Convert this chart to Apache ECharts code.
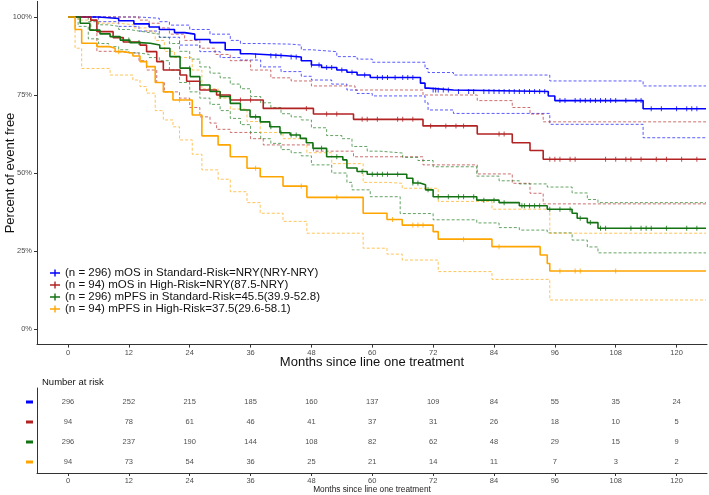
<!DOCTYPE html>
<html>
<head>
<meta charset="utf-8">
<title>KM curves</title>
<script src="https://cdn.jsdelivr.net/npm/echarts@6/dist/echarts.min.js"></script>
<style>html,body{margin:0;padding:0;background:#fff;}</style>
</head>
<body>
<div id="main" style="width:709px;height:495px;"></div>
<script>
// step points [month, percent]
var osStd = [[0,100],[6,99.5],[10,98.8],[13,97.8],[16,96.8],[18,96],[21,95],[23,94.5],[25,92.8],[28,91.8],[31,89.5],[34,88.2],[36,87.6],[43,87.2],[46,86],[48,84.6],[50,83.8],[53,83],[55,82.3],[57,81.4],[59.6,80.6],[69.5,78.8],[70.4,77.2],[71,76.6],[76,76.1],[94.7,74.7],[96,73.2],[113.4,70.6],[125.8,70.6]];
var osStdHi = [[0,100],[10,100],[14,99.6],[18,98.5],[20,97.4],[24,96],[28,94.5],[32,92.5],[34,91.5],[38,91.3],[44,91],[46,89.5],[48,88.9],[53,87.3],[57,86.5],[60,85.5],[70.4,83.5],[71,82.2],[76,81.4],[95,79.5],[113.4,77.9],[125.8,77.9]];
var osStdLo = [[0,100],[4,100],[6,98.5],[10,97],[14,95.5],[18,93.5],[22,91],[26,88.9],[30,87],[34,86.2],[38,84],[42,82.5],[46,81],[48,79.8],[52,78.5],[55,76.6],[57,75.5],[60,74.7],[70.4,72.5],[71,70.2],[76,69.1],[95,65.6],[113.4,61.3],[125.8,61.3]];

var osHigh = [[0,100],[4.5,99],[5.7,95.3],[8.9,93.4],[10.9,92],[14.2,91],[15.5,88.9],[17.5,85.7],[18.8,83],[22.1,81.4],[23.4,79.4],[26,76.6],[29.3,75],[32,73.4],[38.5,70.7],[48.4,68.9],[56.3,67.2],[70,65.1],[80.7,62.5],[87.6,59.7],[91.1,57.2],[93.7,54.4],[125.8,54.4]];
var osHighHi = [[0,100],[9,100],[14,99],[16,98],[18,96.5],[20,94.5],[23,92.5],[26,90],[29,88],[32,86],[36,83],[40,80.5],[44,79.5],[48,77.9],[56.6,76.6],[70,75],[80.7,73.2],[87.6,71],[91.1,68.9],[93.7,66.4],[125.8,66.4]];
var osHighLo = [[0,100],[4.5,96],[5.7,89],[9,88.4],[14,86],[15.5,83],[17.5,79],[19,76],[22,74],[24,71],[26,68],[28,66],[29.3,64],[32,63],[36,61],[38.5,59],[48.4,57],[56.3,55.2],[70,52.6],[80.7,49.7],[87.6,46.7],[91.1,43.5],[93.7,40.1],[125.8,40.1]];

var pfsStd = [[0,100],[2.4,98],[4.3,95.8],[6.3,94.6],[8.3,93.7],[10.3,92.6],[12.2,91.8],[14.2,91.6],[16.2,91],[18.1,90],[20.1,87.3],[22.1,83.6],[24.1,80.9],[26,78.2],[28,76.1],[30,74.5],[32,72.3],[34,70.2],[35.9,68],[37.9,66.4],[39.8,64.8],[41.8,62.9],[43.8,62.2],[45.8,61.1],[47,59.7],[48.3,57.9],[51,55.2],[54.2,54.2],[55,51.6],[57,50.5],[59,49.6],[66.8,48.3],[68,46.8],[69.4,46.2],[70.5,44.6],[72,42.4],[80.6,41.3],[85,40.5],[89,39.5],[94.5,38.4],[99.4,37.1],[100.4,35.5],[102.4,34.1],[104.5,32.3],[125.8,32.3]];
var pfsStdHi = [[0,100],[2,100],[4,98.5],[6,97.5],[8,97],[10,96],[12,95.5],[14,95],[16,94.5],[18,93.5],[20,91.5],[22,89],[24,86.5],[26,84],[28,82],[30,80.5],[32,78.5],[34,77],[36,74.5],[38,72.5],[40,71],[42,69],[44,68],[46,67],[48,64.5],[51,62],[54,61],[56,58.5],[59,57],[61.5,56.4],[66,55],[69,54],[72,52],[80.6,49],[85,47.5],[89,46.5],[94.5,45.5],[99.4,43.6],[102.4,41.5],[104.5,40.5],[125.8,40.5]];
var pfsStdLo = [[0,100],[2,97],[4,93],[6,91.5],[8,90.5],[10,89.5],[12,88.5],[14,88],[16,87],[18,86],[20,83],[22,79],[24,76],[26,74],[28,72],[30,70],[32,67.5],[34,65.5],[36,63],[38,61],[40,59.5],[42,57.5],[44,56.5],[46,55.5],[48,52.6],[52,50],[55,47],[56,44.6],[59.6,42.4],[65.5,37],[72,35],[80.6,34],[85,32.5],[89,31.7],[94.5,30.8],[99.4,28.5],[102.4,26.3],[104.5,24.4],[125.8,24.4]];

var pfsHigh = [[0,100],[1.4,96],[2.7,91.6],[5.7,90.5],[8.3,90],[9.3,88.9],[10.9,88.4],[12.8,87.5],[14.2,85.7],[15.5,84.1],[17.2,79],[18.8,76],[20.7,73.4],[24.5,68.6],[26.4,61.9],[29.6,59],[32,55.2],[35.3,51.5],[37.9,48.8],[42.4,45.8],[47.1,42.2],[58.2,37.1],[62.9,35.1],[65.9,33.3],[72,31.2],[73,28.8],[83.6,26.4],[93.1,23.7],[94.5,21],[95,18.6],[125.8,18.6]];
var pfsHighHi = [[0,100],[2,99],[6,98],[10,97.5],[13,96.5],[15.5,95.5],[17.2,92.5],[19,89],[21,87],[24.5,83],[26.4,77],[29.6,74],[32,70.5],[35.3,66.5],[37.9,63],[42.4,61],[47.1,56.5],[52,53],[58.2,47],[62.9,46.7],[65.9,45.1],[73,40.9],[83.6,38.4],[95,30.7],[125.8,30.7]];
var pfsHighLo = [[0,100],[1.4,90],[2.7,83.5],[8.3,81.4],[12.8,79.8],[14.2,77.7],[15.5,75.6],[17.2,70],[18.8,67],[20.7,64.8],[22,60.6],[24.5,56],[26.4,51],[29.6,48],[32,44],[35.3,40.5],[37.9,37.1],[42.4,34.5],[47.1,30.7],[58.2,25.9],[62.9,24],[65.9,22.1],[73,18.4],[83.6,15.9],[95,9.3],[125.8,9.3]];

// censor times (months)
var censorOsStd = [37,40,41,42,44,45,48,49.5,51,52,54,56,58.5,61,62,63,64.5,66,67,68,72,72.5,73,74,75,77,79,80,82,83,84,85,86,87,88,89,90,91,92,93,94,97,98,100,101,102,103,104,105,106,107,108,110,112,113,115,117,120,122,123,124];
var censorOsHigh = [30,34,36,47,51,53,58,59,61,65,66,68,71.5,74.5,76.5,78,85,86,95,96,97,99,100,106,108,110,111,113,116,118,121,124];
var censorPfsStd = [12,14,24,30,37,40,42,44,45,50,53,58,60,61,62,63,65,68,69,71,73,75,77,78,80,82,84,86,89.5,90,91,92,93,95,97,99,101,103,105,106,111,113,114,115,118,122,124];
var censorPfsHigh = [10,22,37,46,53,64,68,69,70,78,85,97,100,101,108];

var names = [
  '(n = 296) mOS in Standard-Risk=NRY(NRY-NRY)',
  '(n = 94) mOS in High-Risk=NRY(87.5-NRY)',
  '(n = 296) mPFS in Standard-Risk=45.5(39.9-52.8)',
  '(n = 94) mPFS in High-Risk=37.5(29.6-58.1)'
];
var colors = ['#0000FF', '#B22222', '#137313', '#FFA500'];

// number at risk table
var riskMonths = [0,12,24,36,48,60,72,84,96,108,120];
var riskOsStd = [296,252,215,185,160,137,109,84,55,35,24];
var riskOsHigh = [94,78,61,46,41,37,31,26,18,10,5];
var riskPfsStd = [296,237,190,144,108,82,62,48,29,15,9];
var riskPfsHigh = [94,73,54,36,25,21,14,11,7,3,2];
var monthTicks = [0,12,24,36,48,60,72,84,96,108,120];

var curves = [osStd, osHigh, pfsStd, pfsHigh];
var lows = [osStdLo, osHighLo, pfsStdLo, pfsHighLo];
var highs = [osStdHi, osHighHi, pfsStdHi, pfsHighHi];
var censors = [censorOsStd, censorOsHigh, censorPfsStd, censorPfsHigh];
var risks = [riskOsStd, riskOsHigh, riskPfsStd, riskPfsHigh];

function stepAt(curve, t) {
  var v = curve[0][1];
  for (var i = 0; i < curve.length; i++) {
    if (curve[i][0] <= t) v = curve[i][1]; else break;
  }
  return v;
}

var series = [];
// dashed confidence bands first so they sit under the curves
for (var g = 0; g < 4; g++) {
  [lows[g], highs[g]].forEach(function (band) {
    series.push({
      type: 'line', step: 'end', data: band, showSymbol: false, silent: true,
      xAxisIndex: 0, yAxisIndex: 0, z: 1,
      lineStyle: { color: colors[g], width: 1, type: [3, 2], opacity: 0.65 }
    });
  });
}
for (var g = 0; g < 4; g++) {
  series.push({
    name: names[g], type: 'line', step: 'end', data: curves[g], showSymbol: false,
    xAxisIndex: 0, yAxisIndex: 0, z: 3,
    lineStyle: { color: colors[g], width: 1.6 }, itemStyle: { color: colors[g] }
  });
  series.push({
    type: 'scatter', silent: true, xAxisIndex: 0, yAxisIndex: 0, z: 4,
    symbol: 'rect', symbolSize: [1, 5],
    itemStyle: { color: colors[g] },
    data: censors[g].map(function (t) { return [t, stepAt(curves[g], t)]; })
  });
  // risk table row: top row is group 0
  series.push({
    type: 'scatter', silent: true, xAxisIndex: 1, yAxisIndex: 1, symbolSize: 0,
    label: { show: true, position: 'inside', color: '#222', fontSize: 7.5,
      fontFamily: 'Liberation Sans', formatter: function (p) { return p.value[2]; } },
    data: riskMonths.map(function (m, i) { return [m, 4 - g, risks[g][i]]; })
  });
}

var tickLabel = { color: '#4D4D4D', fontSize: 7.5, fontFamily: 'Liberation Sans' };

var chart = echarts.init(document.getElementById('main'));
chart.setOption({
  animation: false,
  title: {
    text: 'Number at risk', left: 37, top: 372,
    textStyle: { fontSize: 9.5, fontWeight: 'normal', color: '#111', fontFamily: 'Liberation Sans' }
  },
  legend: {
    data: names, orient: 'vertical', left: 45, top: 262, itemGap: 0,
    itemWidth: 10, itemHeight: 8,
    icon: 'path://M0,4.3h10v1.4h-10z M4.3,1.5h1.4v7h-1.4z',
    textStyle: { fontSize: 11.5, lineHeight: 10.3, color: '#111', fontFamily: 'Liberation Sans' }
  },
  grid: [
    { left: 37, right: 2, top: 1.4, height: 343.2, containLabel: false, outerBoundsMode: 'none' },
    { left: 37, right: 2, top: 388, height: 85, containLabel: false, outerBoundsMode: 'none' }
  ],
  xAxis: [
    {
      type: 'value', gridIndex: 0, min: -6.11, max: 126,
      name: 'Months since line one treatment', nameLocation: 'middle', nameGap: 11, nameMoveOverlap: false,
      nameTextStyle: { fontSize: 13, color: '#111', fontFamily: 'Liberation Sans' },
      axisLine: { onZero: false, lineStyle: { color: '#333', width: 1 } },
      axisTick: { length: 3, lineStyle: { color: '#333' }, customValues: monthTicks },
      axisLabel: Object.assign({ margin: 4, customValues: monthTicks }, tickLabel),
      splitLine: { show: false }
    },
    {
      type: 'value', gridIndex: 1, min: -6.11, max: 126,
      name: 'Months since line one treatment', nameLocation: 'middle', nameGap: 13, nameMoveOverlap: false,
      nameTextStyle: { fontSize: 8.3, color: '#222', fontFamily: 'Liberation Sans' },
      axisLine: { onZero: false, lineStyle: { color: '#333', width: 1 } },
      axisTick: { length: 3, lineStyle: { color: '#333' }, customValues: monthTicks },
      axisLabel: Object.assign({ margin: 4, customValues: monthTicks }, tickLabel),
      splitLine: { show: false }
    }
  ],
  yAxis: [
    {
      type: 'value', gridIndex: 0, min: -5, max: 105,
      name: 'Percent of event free', nameLocation: 'middle', nameGap: 20, nameMoveOverlap: false,
      nameTextStyle: { fontSize: 13, color: '#111', fontFamily: 'Liberation Sans' },
      axisLine: { show: true, onZero: false, lineStyle: { color: '#333', width: 1 } },
      axisTick: { show: true, length: 3, lineStyle: { color: '#333' }, customValues: [0, 25, 50, 75, 100] },
      axisLabel: Object.assign({ margin: 5, customValues: [0, 25, 50, 75, 100],
        formatter: function (v) { return v + '%'; } }, tickLabel),
      splitLine: { show: false }
    },
    {
      type: 'value', gridIndex: 1, min: 0.45, max: 4.7,
      axisLine: { show: true, onZero: false, lineStyle: { color: '#333', width: 1 } },
      axisTick: { show: false },
      axisLabel: {
        margin: 4, customValues: [1, 2, 3, 4],
        formatter: function (v) { return '{k' + v + '|}'; },
        rich: {
          k4: { width: 7, height: 3, backgroundColor: colors[0] },
          k3: { width: 7, height: 3, backgroundColor: colors[1] },
          k2: { width: 7, height: 3, backgroundColor: colors[2] },
          k1: { width: 7, height: 3, backgroundColor: colors[3] }
        }
      },
      splitLine: { show: false }
    }
  ],
  series: series
});
</script>
</body>
</html>
